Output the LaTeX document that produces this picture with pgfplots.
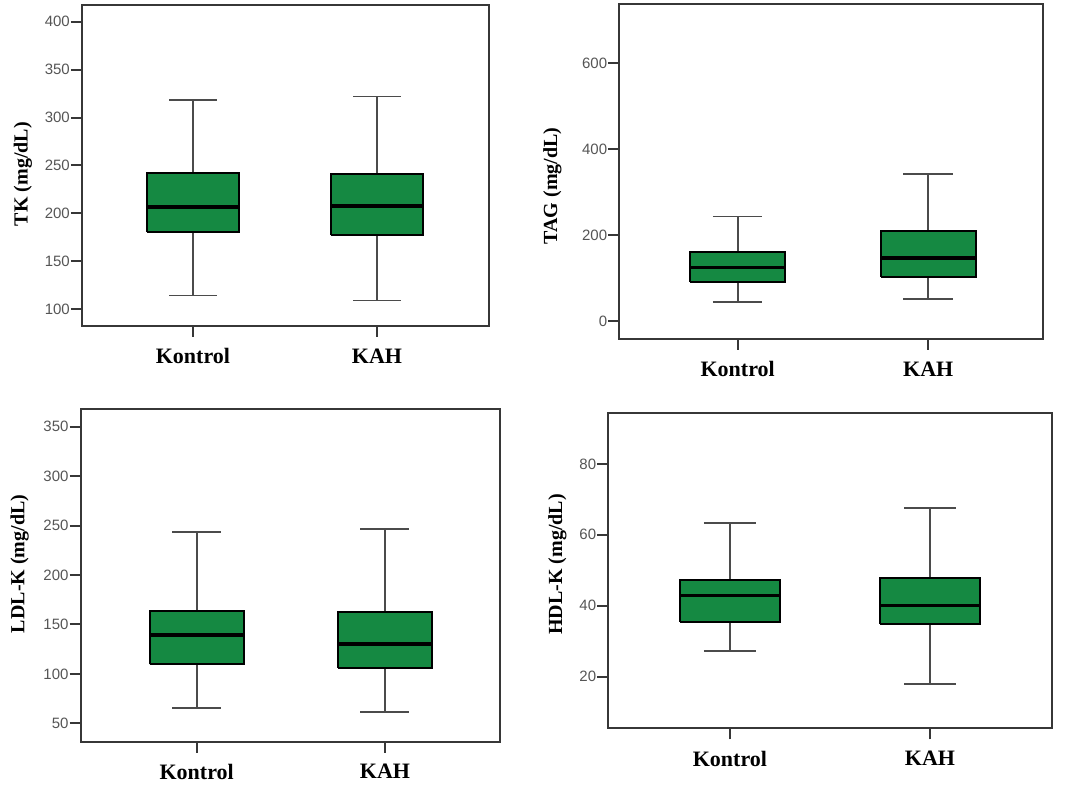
\documentclass[border=0pt]{standalone}
\usepackage{fontspec}
\setmainfont{Liberation Serif}
\newfontfamily\sansf{Liberation Sans}
\usepackage{pgfplots}
\pgfplotsset{compat=1.18}
\definecolor{boxgreen}{RGB}{21,137,66}
\definecolor{axisgray}{RGB}{55,55,55}
\definecolor{whiskgray}{RGB}{75,75,75}
\definecolor{ticktext}{RGB}{85,85,85}
\pgfplotsset{
  mypanel/.style={
    scale only axis,
    anchor=south west,
    axis line style={draw=axisgray, line width=2.2pt},
    tick style={draw=axisgray, line width=2pt},
    tick align=outside,
    tick pos=left,
    major tick length=11pt,
    xtick={1,2},
    xticklabels={Kontrol, KAH},
    x tick label style={font=\fontsize{22}{22}\selectfont\bfseries, text=black, yshift=-8pt},
    y tick label style={font=\sansf\fontsize{15}{15}\selectfont, text=ticktext, inner sep=1pt},
    /pgf/number format/assume math mode=true,
    /pgf/number format/1000 sep={},
  },
  ylab/.style 2 args={every axis y label/.style={at={(rel axis cs:0,#1)}, xshift=#2, rotate=90, anchor=center, font=\fontsize{20}{20}\selectfont\bfseries}},
  whisk/.style={draw=whiskgray, line width=1.8pt},
  bx/.style={draw=black, fill=boxgreen, line width=1.8pt, line join=miter},
  med/.style={draw=black, line width=3.5pt},
}
\begin{document}
\begin{tikzpicture}
\path (0pt,0pt) rectangle (1072pt,792pt);
% TK
\begin{axis}[mypanel, at={(82pt,466pt)}, width=407pt, height=321pt,
  xmin=0.397, xmax=2.609, ymin=82.6, ymax=417.4,
  ytick={100,150,...,400},
  ylabel={TK (mg/dL)}, ylab={0.473}{-59pt}]
\addplot[whisk] coordinates {(1,114.3) (1,318.4)};
\addplot[whisk] coordinates {(0.87,114.3) (1.13,114.3)};
\addplot[whisk] coordinates {(0.87,318.4) (1.13,318.4)};
\addplot[bx] coordinates {(0.75,180.6) (1.25,180.6) (1.25,242) (0.75,242) (0.75,180.6)};
\addplot[med] coordinates {(0.755,206.7) (1.245,206.7)};
\addplot[whisk] coordinates {(2,109.1) (2,321.9)};
\addplot[whisk] coordinates {(1.87,109.1) (2.13,109.1)};
\addplot[whisk] coordinates {(1.87,321.9) (2.13,321.9)};
\addplot[bx] coordinates {(1.75,177.1) (2.25,177.1) (2.25,241.4) (1.75,241.4) (1.75,177.1)};
\addplot[med] coordinates {(1.755,208) (2.245,208)};
\end{axis}
% TAG
\begin{axis}[mypanel, at={(619.3pt,453pt)}, width=423.7pt, height=335pt,
  xmin=0.379, xmax=2.602, ymin=-42, ymax=738,
  ytick={0,200,400,600},
  ylabel={TAG (mg/dL)}, ylab={0.457}{-67pt}]
\addplot[whisk] coordinates {(1,45) (1,243)};
\addplot[whisk] coordinates {(0.87,45) (1.13,45)};
\addplot[whisk] coordinates {(0.87,243) (1.13,243)};
\addplot[bx] coordinates {(0.75,91.5) (1.25,91.5) (1.25,160) (0.75,160) (0.75,91.5)};
\addplot[med] coordinates {(0.755,125) (1.245,125)};
\addplot[whisk] coordinates {(2,50.5) (2,342)};
\addplot[whisk] coordinates {(1.87,50.5) (2.13,50.5)};
\addplot[whisk] coordinates {(1.87,342) (2.13,342)};
\addplot[bx] coordinates {(1.75,103) (2.25,103) (2.25,210) (1.75,210) (1.75,103)};
\addplot[med] coordinates {(1.755,147) (2.245,147)};
\end{axis}
% LDL
\begin{axis}[mypanel, at={(80.7pt,50.3pt)}, width=419.3pt, height=332.4pt,
  xmin=0.384, xmax=2.611, ymin=31.4, ymax=367.6,
  ytick={50,100,...,350},
  ylabel={LDL-K (mg/dL)}, ylab={0.535}{-61pt}]
\addplot[whisk] coordinates {(1,65.2) (1,243.8)};
\addplot[whisk] coordinates {(0.87,65.2) (1.13,65.2)};
\addplot[whisk] coordinates {(0.87,243.8) (1.13,243.8)};
\addplot[bx] coordinates {(0.75,109.7) (1.25,109.7) (1.25,163.6) (0.75,163.6) (0.75,109.7)};
\addplot[med] coordinates {(0.755,139.3) (1.245,139.3)};
\addplot[whisk] coordinates {(2,61.5) (2,246.2)};
\addplot[whisk] coordinates {(1.87,61.5) (2.13,61.5)};
\addplot[whisk] coordinates {(1.87,246.2) (2.13,246.2)};
\addplot[bx] coordinates {(1.75,106.3) (2.25,106.3) (2.25,162.6) (1.75,162.6) (1.75,106.3)};
\addplot[med] coordinates {(1.755,130.2) (2.245,130.2)};
\end{axis}
% HDL
\begin{axis}[mypanel, at={(608.3pt,63.7pt)}, width=443.4pt, height=315pt,
  xmin=0.392, xmax=2.608, ymin=5.4, ymax=94.3,
  ytick={20,40,60,80},
  ylabel={HDL-K (mg/dL)}, ylab={0.52}{-51pt}]
\addplot[whisk] coordinates {(1,27.3) (1,63.4)};
\addplot[whisk] coordinates {(0.87,27.3) (1.13,27.3)};
\addplot[whisk] coordinates {(0.87,63.4) (1.13,63.4)};
\addplot[bx] coordinates {(0.75,35.5) (1.25,35.5) (1.25,47.3) (0.75,47.3) (0.75,35.5)};
\addplot[med] coordinates {(0.755,42.9) (1.245,42.9)};
\addplot[whisk] coordinates {(2,17.8) (2,67.5)};
\addplot[whisk] coordinates {(1.87,17.8) (2.13,17.8)};
\addplot[whisk] coordinates {(1.87,67.5) (2.13,67.5)};
\addplot[bx] coordinates {(1.75,34.8) (2.25,34.8) (2.25,47.9) (1.75,47.9) (1.75,34.8)};
\addplot[med] coordinates {(1.755,40) (2.245,40)};
\end{axis}
\end{tikzpicture}
\end{document}
